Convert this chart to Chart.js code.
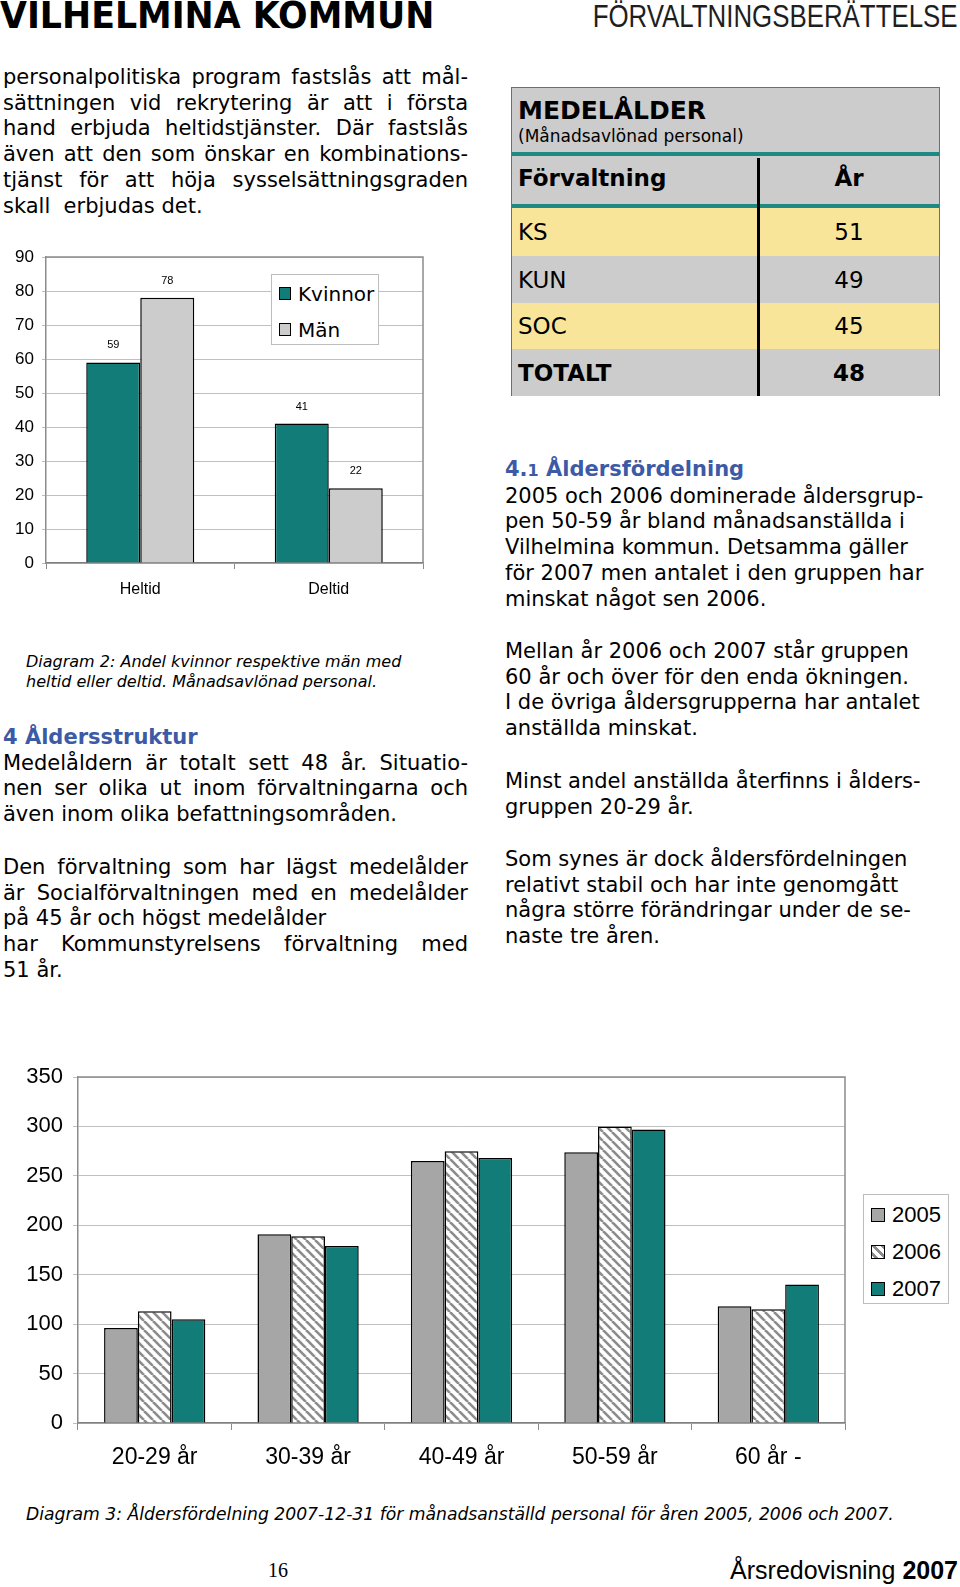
<!DOCTYPE html>
<html lang="sv">
<head>
<meta charset="utf-8">
<title>Vilhelmina kommun – Åldersstruktur</title>
<script src="https://cdn.jsdelivr.net/npm/chart.js@4.4.1/dist/chart.umd.min.js"></script>
<style>
  html, body { margin: 0; padding: 0; background: #fff; }
  body { width: 960px; height: 1587px; position: relative; overflow: hidden;
         font-family: 'DejaVu Sans', Verdana, sans-serif; color: #000; }
  .abs { position: absolute; }
  .txt { font-size: 21px; line-height: 25.7px; }
  .j span { display: block; text-align: justify; text-align-last: justify; }
  .j span.last { text-align-last: left; }
  .rc { white-space: nowrap; }
  .head { color: #3c5aa6; font-weight: bold; }
  .cap { font-style: italic; font-size: 16px; line-height: 20px; }
  canvas { position: absolute; }
  .legend { position: absolute; background: #fff; box-sizing: border-box; }
  .legend div { position: absolute; white-space: nowrap; }
  .sw { position: absolute; box-sizing: border-box; border: 1.5px solid #000; }
  #tbl { position: absolute; left: 511px; top: 87px; width: 429px; height: 309px;
         background: #cccccc; border: 1px solid #6e6e6e; box-sizing: border-box; }
  #tbl div { position: absolute; white-space: nowrap; }
</style>
</head>
<body>

<div class="abs" style="left:0;top:-4.5px;font:bold 37px/40px 'DejaVu Sans';transform:scaleX(0.94);transform-origin:left center;white-space:nowrap;">VILHELMINA KOMMUN</div>
<div class="abs" style="right:2px;top:-1px;font:31px/35px 'Liberation Sans';color:#1e1e1e;transform:scaleX(0.834);transform-origin:right center;white-space:nowrap;">FÖRVALTNINGSBERÄTTELSE</div>

<div class="abs txt j" style="left:3px;top:65px;width:465px;">
  <span>personalpolitiska program fastslås att mål-</span>
  <span>sättningen vid rekrytering är att i första</span>
  <span>hand erbjuda heltidstjänster. Där fastslås</span>
  <span>även att den som önskar en kombinations-</span>
  <span>tjänst för att höja sysselsättningsgraden</span>
  <span class="last">skall&nbsp; erbjudas det.</span>
</div>

<canvas id="chartWork" width="440" height="370" style="left:0;top:240px;"></canvas>
<div class="legend" style="left:271px;top:274px;width:108px;height:71px;border:1px solid #bdbdbd;font:20px/24px 'DejaVu Sans';">
  <span class="sw" style="left:7px;top:12px;width:12px;height:13px;background:#127d78;"></span>
  <div style="left:26px;top:7px;">Kvinnor</div>
  <span class="sw" style="left:7px;top:48px;width:12px;height:13px;background:#cccccc;"></span>
  <div style="left:26px;top:43px;">Män</div>
</div>

<div class="abs cap" style="left:26px;top:652px;">Diagram 2: Andel kvinnor respektive män med<br>heltid eller deltid. Månadsavlönad personal.</div>

<div class="abs txt j" style="left:3px;top:725px;width:465px;">
  <span class="last head">4 Åldersstruktur</span>
  <span>Medelåldern är totalt sett 48 år. Situatio-</span>
  <span>nen ser olika ut inom förvaltningarna och</span>
  <span class="last">även inom olika befattningsområden.</span>
</div>

<div class="abs txt j" style="left:3px;top:855px;width:465px;">
  <span>Den förvaltning som har lägst medelålder</span>
  <span>är Socialförvaltningen med en medelålder</span>
  <span class="last">på 45 år och högst medelålder</span>
  <span>har Kommunstyrelsens förvaltning med</span>
  <span class="last">51 år.</span>
</div>

<div id="tbl"></div>

<div class="abs txt rc" style="left:505px;top:457px;">
  <span class="head">4.<span style="font-size:16px;">1</span> Åldersfördelning</span><br>
  2005 och 2006 dominerade åldersgrup-<br>
  pen 50-59 år bland månadsanställda i<br>
  Vilhelmina kommun. Detsamma gäller<br>
  för 2007 men antalet i den gruppen har<br>
  minskat något sen 2006.
</div>
<div class="abs txt rc" style="left:505px;top:639px;">
  Mellan år 2006 och 2007 står gruppen<br>
  60 år och över för den enda ökningen.<br>
  I de övriga åldersgrupperna har antalet<br>
  anställda minskat.
</div>
<div class="abs txt rc" style="left:505px;top:769px;">
  Minst andel anställda återfinns i ålders-<br>
  gruppen 20-29 år.
</div>
<div class="abs txt rc" style="left:505px;top:847px;">
  Som synes är dock åldersfördelningen<br>
  relativt stabil och har inte genomgått<br>
  några större förändringar under de se-<br>
  naste tre åren.
</div>

<canvas id="chartAge" width="960" height="420" style="left:0;top:1060px;"></canvas>
<div class="legend" style="left:863px;top:1194px;width:86px;height:110px;border:1px solid #bdbdbd;font:22px/26px 'Liberation Sans';">
  <span class="sw" style="left:7px;top:13px;width:14px;height:14px;background:#a6a6a6;"></span>
  <div style="left:28px;top:7px;">2005</div>
  <span class="sw" style="left:7px;top:50px;width:14px;height:14px;background:repeating-linear-gradient(45deg,#fff 0 2px,#8c8c8c 2px 4.5px,#fff 4.5px 6.4px);"></span>
  <div style="left:28px;top:44px;">2006</div>
  <span class="sw" style="left:7px;top:87px;width:14px;height:14px;background:#127d78;"></span>
  <div style="left:28px;top:81px;">2007</div>
</div>

<div class="abs cap" style="left:26px;top:1504px;font-size:17.2px;">Diagram 3: Åldersfördelning 2007-12-31 för månadsanställd personal för åren 2005, 2006 och 2007.</div>

<div class="abs" style="left:268px;top:1558px;font:20px/24px 'Liberation Serif';">16</div>
<div class="abs" style="right:2px;top:1555px;font:25px/30px 'Liberation Sans';">Årsredovisning <b>2007</b></div>

<script>
// Diagram 2: heltid / deltid
const ptCategories = ['Heltid', 'Deltid'];
const ptWomen = [59, 41];
const ptMen = [78, 22];

// Diagram 3: åldersfördelning
const ageGroups = ['20-29 år', '30-39 år', '40-49 år', '50-59 år', '60 år -'];
const age2005 = [96, 191, 265, 274, 118];
const age2006 = [113, 189, 275, 300, 115];
const age2007 = [105, 179, 268, 297, 140];

// Medelålder-tabellen
const tableUnits = ['KS', 'KUN', 'SOC', 'TOTALT'];
const tableAges = [51, 49, 45, 48];

const TEAL = '#127d78';
Chart.defaults.font.family = '"Liberation Sans", Arial, sans-serif';
Chart.defaults.color = '#000';

// build the table
const tbl = document.getElementById('tbl');
function cell(html, css) {
    const d = document.createElement('div');
    d.innerHTML = html;
    d.style.cssText = css;
    tbl.appendChild(d);
    return d;
}
cell('MEDELÅLDER', 'left:6px;top:8px;font:bold 25px/30px "DejaVu Sans";');
cell('(Månadsavlönad personal)', 'left:6px;top:38px;font:17px/20px "DejaVu Sans";');
cell('', 'left:0;top:64px;width:427px;height:4px;background:#1f8a84;');
cell('Förvaltning', 'left:6px;top:75px;font:bold 23px/30px "DejaVu Sans";');
cell('År', 'left:246px;width:182px;text-align:center;top:75px;font:bold 23px/30px "DejaVu Sans";');
cell('', 'left:0;top:116px;width:427px;height:4px;background:#1f8a84;');
const rowTops = [120, 168, 215, 261];
const rowHeights = [48, 47, 46, 47];
tableUnits.forEach((u, i) => {
    const bg = i % 2 === 0 ? '#f8e59a' : '#cccccc';
    const weight = u === 'TOTALT' ? 'bold' : 'normal';
    cell('', `left:0;top:${rowTops[i]}px;width:427px;height:${rowHeights[i]}px;background:${bg};`);
    const top = rowTops[i] + rowHeights[i] / 2 - 15;
    cell(u, `left:6px;top:${top}px;font:${weight} 23px/30px "DejaVu Sans";`);
    cell(String(tableAges[i]), `left:246px;width:182px;text-align:center;top:${top}px;font:${weight} 23px/30px "DejaVu Sans";`);
});
cell('', 'left:245px;top:70px;width:3px;height:238px;background:#000;');

// top and right edge of the plot area
const plotFrame = {
    id: 'plotFrame',
    beforeDatasetsDraw(chart) {
        const { ctx, chartArea: a } = chart;
        ctx.save();
        ctx.strokeStyle = '#8c8c8c';
        ctx.lineWidth = 1.5;
        ctx.beginPath();
        ctx.moveTo(a.left, a.top);
        ctx.lineTo(a.right, a.top);
        ctx.lineTo(a.right, a.bottom);
        ctx.stroke();
        ctx.restore();
    }
};

// value labels above the bars in diagram 2
const barValues = {
    id: 'barValues',
    afterDatasetsDraw(chart) {
        const ctx = chart.ctx;
        ctx.save();
        ctx.font = '11px "Liberation Sans", Arial, sans-serif';
        ctx.fillStyle = '#000';
        ctx.textAlign = 'center';
        ctx.textBaseline = 'middle';
        chart.data.datasets.forEach((ds, i) => {
            chart.getDatasetMeta(i).data.forEach((bar, j) => {
                ctx.fillText(ds.data[j], bar.x, bar.y - 17);
            });
        });
        ctx.restore();
    }
};

// fixed axis width, and let layout.padding alone set the top
function yFit(width) {
    return s => {
        s.width = width;
        s.paddingTop = 0;
        s.paddingBottom = 0;
    };
}

new Chart(document.getElementById('chartWork'), {
    type: 'bar',
    data: {
        labels: ptCategories,
        datasets: [
            { label: 'Kvinnor', data: ptWomen, backgroundColor: TEAL, borderColor: '#000', borderWidth: 1.5 },
            { label: 'Män', data: ptMen, backgroundColor: '#cccccc', borderColor: '#000', borderWidth: 1.5 }
        ]
    },
    options: {
        responsive: false,
        animation: false,
        devicePixelRatio: 1,
        layout: { padding: { top: 17, right: 17, left: 0, bottom: 0 } },
        datasets: { bar: { categoryPercentage: 0.573, barPercentage: 1 } },
        plugins: { legend: { display: false }, tooltip: { enabled: false } },
        scales: {
            x: {
                grid: { offset: true, drawOnChartArea: false, tickLength: 6, color: '#8c8c8c' },
                border: { color: '#808080', width: 1.5 },
                ticks: { font: { size: 16 }, padding: 11 },
                afterFit: s => { s.height = 47; }
            },
            y: {
                min: 0,
                max: 90,
                ticks: { stepSize: 10, font: { size: 17 }, padding: 8 },
                grid: { color: '#c0c0c0', tickLength: 4 },
                border: { color: '#8c8c8c', width: 1.5 },
                afterFit: yFit(46)
            }
        }
    },
    plugins: [plotFrame, barValues]
});

// diagonal stripes for 2006
function stripes() {
    const c = document.createElement('canvas');
    c.width = 9;
    c.height = 9;
    const g = c.getContext('2d');
    g.fillStyle = '#fff';
    g.fillRect(0, 0, 9, 9);
    g.strokeStyle = '#8c8c8c';
    g.lineWidth = 2.6;
    [-9, 0, 9].forEach(o => {
        g.beginPath();
        g.moveTo(o, 0);
        g.lineTo(o + 9, 9);
        g.stroke();
    });
    return g.createPattern(c, 'repeat');
}

new Chart(document.getElementById('chartAge'), {
    type: 'bar',
    data: {
        labels: ageGroups,
        datasets: [
            { label: '2005', data: age2005, backgroundColor: '#a6a6a6' },
            { label: '2006', data: age2006, backgroundColor: stripes() },
            { label: '2007', data: age2007, backgroundColor: TEAL }
        ]
    },
    options: {
        responsive: false,
        animation: false,
        devicePixelRatio: 1,
        layout: { padding: { top: 17, right: 115, left: 0, bottom: 0 } },
        datasets: { bar: { categoryPercentage: 0.66, barPercentage: 1, borderColor: '#000', borderWidth: 1.5 } },
        plugins: { legend: { display: false }, tooltip: { enabled: false } },
        scales: {
            x: {
                grid: { offset: true, drawOnChartArea: false, tickLength: 7, color: '#8c8c8c' },
                border: { color: '#808080', width: 1.5 },
                ticks: { font: { size: 23 }, padding: 14 },
                afterFit: s => { s.height = 57; }
            },
            y: {
                min: 0,
                max: 350,
                ticks: { stepSize: 50, font: { size: 22 }, padding: 10 },
                grid: { color: '#c0c0c0', tickLength: 5 },
                border: { color: '#8c8c8c', width: 1.5 },
                afterFit: yFit(78)
            }
        }
    },
    plugins: [plotFrame]
});
</script>
</body>
</html>
